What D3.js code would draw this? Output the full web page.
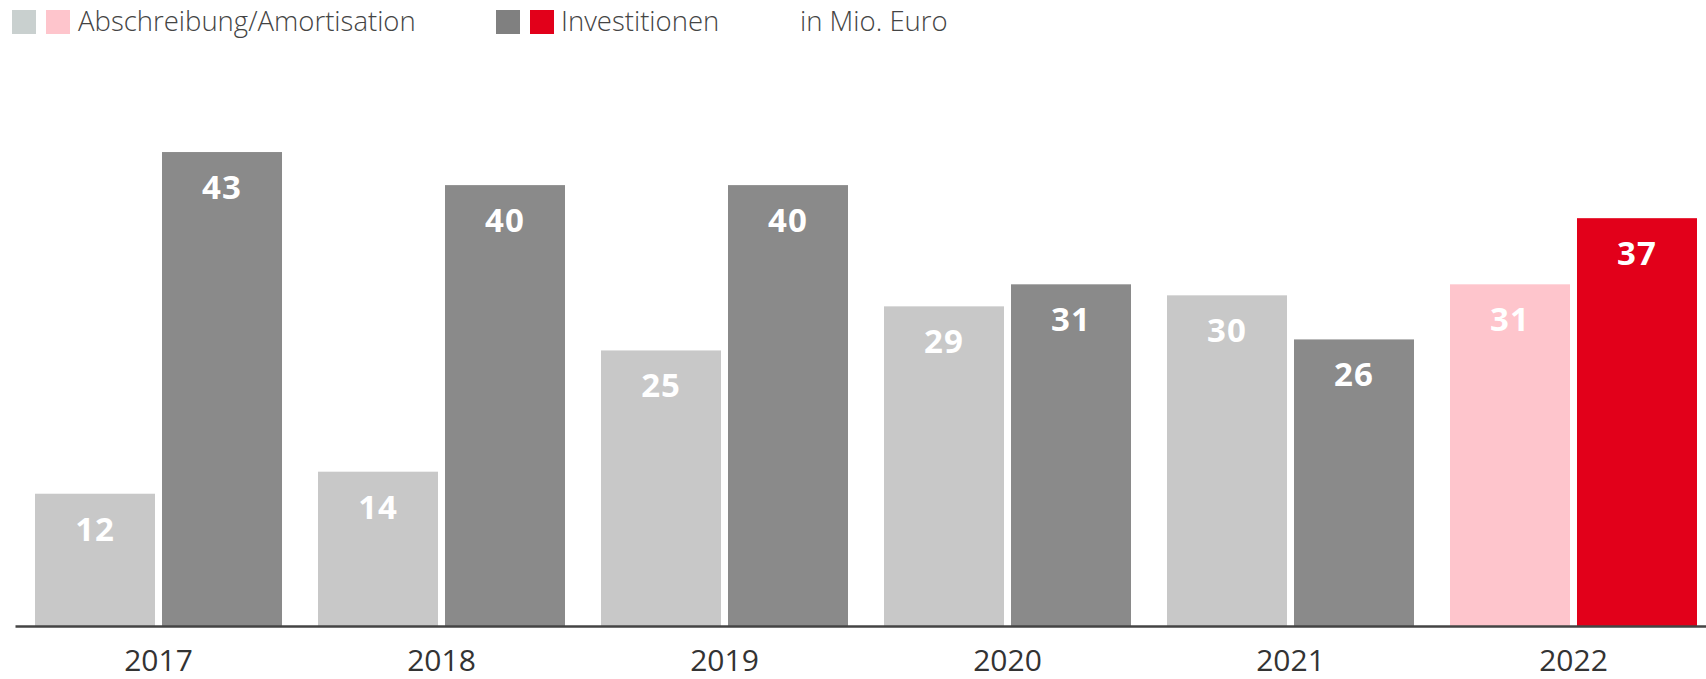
<!DOCTYPE html>
<html><head><meta charset="utf-8">
<script src="https://cdn.jsdelivr.net/npm/d3@7"></script>
<style>
html,body{margin:0;padding:0;background:#fff;}
svg{display:block;font-family:"Open Sans",sans-serif;}
</style></head>
<body><svg id="chart" width="1706" height="679"></svg>
<script>
const years = ["2017","2018","2019","2020","2021","2022"];
const abschreibung = [12, 14, 25, 29, 30, 31];
const investitionen = [43, 40, 40, 31, 26, 37];
const seriesKeys = ["abs","inv"];
const legendLabels = ["Abschreibung/Amortisation","Investitionen","in Mio. Euro"];

const colAbs = "#c8c8c8", colInv = "#8a8a8a", colAbsHi = "#fec5cc", colInvHi = "#e2001a";

const svg = d3.select("#chart");
const baseY = 626;

const x = d3.scaleBand().domain(years).range([15, 1717]).paddingInner(0.1272).paddingOuter(0.0707);
const xs = d3.scaleBand().domain(seriesKeys).range([0, x.bandwidth()]).paddingInner(0.0551).paddingOuter(0);
const y = d3.scaleLinear().domain([0, 45]).range([baseY, baseY - 496]);

const rows = years.map((yr,i)=>({year:yr, i, vals:[{k:"abs",v:abschreibung[i]},{k:"inv",v:investitionen[i]}]}));

function color(d, yr){
  const hi = yr === "2022";
  if (d.k === "abs") return hi ? colAbsHi : colAbs;
  return hi ? colInvHi : colInv;
}

const g = svg.append("g");
const groups = g.selectAll("g.grp").data(rows).join("g").attr("class","grp")
  .attr("transform", d=>`translate(${x(d.year)},0)`);

groups.selectAll("rect").data(d=>d.vals.map(v=>({...v, year:d.year}))).join("rect")
  .attr("x", d=>xs(d.k)).attr("width", xs.bandwidth())
  .attr("y", d=>y(d.v)).attr("height", d=>y(0)-y(d.v))
  .attr("fill", d=>color(d, d.year));

groups.selectAll("text.val").data(d=>d.vals.map(v=>({...v, year:d.year}))).join("text")
  .attr("class","val")
  .attr("x", d=>xs(d.k)+xs.bandwidth()/2)
  .attr("y", d=>y(d.v)+47)
  .attr("text-anchor","middle")
  .attr("font-size","33px").attr("font-weight","700").attr("fill","#fff")
  .attr("letter-spacing","1px")
  .text(d=>d.v);

const axis = svg.append("g").attr("transform",`translate(0,${baseY})`)
  .call(d3.axisBottom(x).tickSize(0).tickSizeOuter(0));
axis.select(".domain").attr("stroke","#444").attr("stroke-width",2.5);
axis.selectAll(".tick text").attr("y",45).attr("dy",0)
  .attr("font-size","30px").attr("font-family","'Open Sans',sans-serif").attr("fill","#333");

// Legend
const lg = svg.append("g");
const sq = 24;
const legendItems = [
  {x:12, c:"#c9d0cf"},{x:46, c:colAbsHi},{x:496, c:"#808080"},{x:530, c:colInvHi}
];
lg.selectAll("rect").data(legendItems).join("rect")
  .attr("x",d=>d.x).attr("y",10).attr("width",sq).attr("height",sq).attr("fill",d=>d.c);
const textX = [78, 561, 800];
lg.selectAll("text").data(legendLabels).join("text")
  .attr("x",(d,i)=>textX[i]).attr("y",31)
  .attr("font-size","27.5px").attr("font-weight","300").attr("fill","#444")
  .text(d=>d);
</script></body></html>
